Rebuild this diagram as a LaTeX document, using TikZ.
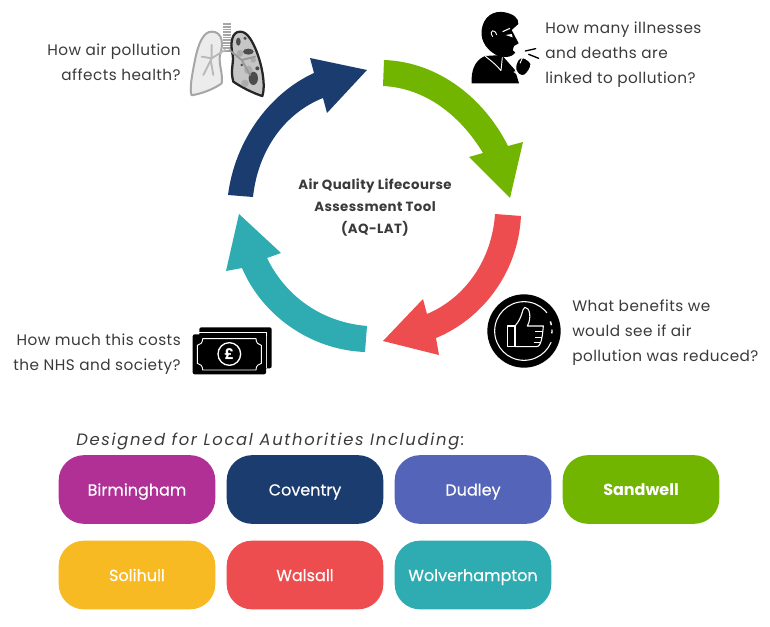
\documentclass[tikz,border=0pt]{standalone}
\usepackage{fontspec}
\setmainfont{Poppins}
\newfontfamily\spaced[LetterSpace=3]{Poppins}
\newfontfamily\spacedwide[LetterSpace=10.2]{Poppins}
\newfontfamily\spacedbold[LetterSpace=3]{Poppins}
\newfontfamily\popmedium[FakeBold=0.35]{Poppins}
\definecolor{cycleblue}{HTML}{1A3C6E}
\definecolor{cyclegreen}{HTML}{72B500}
\definecolor{cyclered}{HTML}{EE4D4F}
\definecolor{cycleteal}{HTML}{2EACB2}
\definecolor{cityplum}{HTML}{B03096}
\definecolor{cityindigo}{HTML}{5464B8}
\definecolor{cityyellow}{HTML}{F7BA23}
\definecolor{inkgrey}{HTML}{3A3A3A}
\tikzset{
  question/.style={text=inkgrey,inner sep=0pt,font=\spaced\fontsize{11.45}{18.75}\selectfont},
  cityname/.style={rounded corners=19pt,minimum width=117.5pt,minimum height=51.5pt,inner sep=0pt,
    text=white,text height=10pt,text depth=1pt,font=\popmedium\fontsize{12}{14}\selectfont},
  iconcrop/.style={x=0.25pt,y=-0.25pt},
}
\begin{document}
\begin{tikzpicture}[x=0.75pt,y=-0.75pt]
\useasboundingbox (0,0) rectangle (770,627);

% The four cycle arrows
\fill[cycleblue] (228,195) .. controls (235,140) and (270,93) .. (314,73) -- (310,58) -- (367,70) -- (327,113) -- (323,98)
  .. controls (285,113) and (258,150) .. (253,197) -- cycle;
\fill[cyclegreen] (384,60) .. controls (440,62) and (485,100) .. (508,146) -- (523,142) -- (510,198) -- (469,157) -- (483,153)
  .. controls (460,115) and (425,88) .. (383,86) -- cycle;
\fill[cyclered] (521,216) .. controls (518,275) and (480,320) .. (436,338) -- (439,355) -- (383,341) -- (423,299) -- (427,314)
  .. controls (465,298) and (492,260) .. (495,214) -- cycle;
\fill[cycleteal] (367,326) .. controls (320,322) and (285,295) .. (267,258) -- (281,253) -- (239,214) -- (226,271) -- (242,268)
  .. controls (262,315) and (310,350) .. (365,352) -- cycle;

% Centre title
\node[text=inkgrey,align=center,inner sep=0pt,font=\spacedbold\bfseries\fontsize{10}{16.5}\selectfont] (title) at (375,208)
  {Air Quality Lifecourse\\Assessment Tool\\(AQ-LAT)};

% Questions around the cycle
\node[question,align=right,anchor=east] (qhealth) at (181,62) {How air pollution\\affects health?};
\node[question,align=left,anchor=west] (qill) at (545,55) {How many illnesses\\and deaths are\\linked to pollution?};
\node[question,align=left,anchor=west] (qbenefit) at (572,333) {What benefits we\\would see if air\\pollution was reduced?};
\node[question,align=right,anchor=east] (qcost) at (181,354) {How much this costs\\the NHS and society?};

% Lungs
\begin{scope}[shift={(170,0)},iconcrop]
  \fill[gray!70] (160,70) rectangle (184,155);
  \foreach \y in {76,84,...,148} \draw[white,line width=0.35pt] (160,\y) -- (184,\y);
  \draw[fill=gray!15,draw=gray!70,line width=1.5pt,line join=round] (125,95) .. controls (100,95) and (85,130) .. (75,180)
    .. controls (65,230) and (58,270) .. (65,286) .. controls (100,280) and (135,265) .. (155,250)
    .. controls (160,225) and (145,190) .. (150,165) .. controls (160,135) and (160,95) .. (125,95) -- cycle;
  \draw[gray!55,line width=1.4pt,line cap=round] (165,150) -- (125,175) -- (100,225) (125,175) -- (95,170) (122,180) -- (130,225) (125,135) -- (125,175);
  \draw[fill=gray!45,draw=black!85,line width=1.7pt,line join=round] (210,95) .. controls (185,95) and (180,130) .. (188,165)
    .. controls (192,190) and (180,210) .. (190,245) .. controls (215,262) and (250,280) .. (277,288)
    .. controls (290,250) and (270,160) .. (240,115) .. controls (230,100) and (220,95) .. (210,95) -- cycle;
  \fill[black!70] (235,155) ellipse[x radius=16,y radius=9] (250,235) ellipse[x radius=14,y radius=20] (205,125) ellipse[x radius=7,y radius=12]
    (215,195) circle[radius=4] (262,205) circle[radius=6] (225,115) circle[radius=5];
  \fill[gray!65] (210,160) circle[radius=10] (235,210) circle[radius=13] (225,250) circle[radius=11] (250,180) circle[radius=8];
  \draw[gray!80,line width=1.4pt,line cap=round] (178,150) -- (215,180) -- (240,225) (215,180) -- (255,170);
\end{scope}

% Coughing figure
\begin{scope}[shift={(370,0)},iconcrop]
  \fill[black] (305,250) .. controls (303,215) and (312,182) .. (345,168) -- (395,165) -- (435,210) -- (447,250) -- cycle;
  \fill[black] (385,168) .. controls (355,155) and (330,125) .. (335,90) .. controls (340,50) and (370,30) .. (405,37)
    .. controls (430,42) and (447,55) .. (445,72) -- (425,90) -- (446,130) -- (432,138) -- (428,150) -- (436,158)
    .. controls (425,172) and (408,172) .. (398,170) -- cycle;
  \draw[white,line width=0.7pt] (345,168) .. controls (360,180) and (380,195) .. (393,212) (393,212) -- (397,172);
  \draw[white,line width=0.7pt] (368,110) .. controls (355,90) and (375,85) .. (380,105);
  \fill[white] (407,105) -- (425,102) -- (428,112) -- cycle;
  \draw[white,line width=0.8pt] (398,95) -- (420,85);
  \draw[white,line width=1.2pt,fill=black,rounded corners=3pt] (440,180) -- (457,168) -- (488,190) -- (472,222) -- (455,232) -- (434,212) -- cycle;
  \draw[white,line width=0.7pt] (450,190) -- (458,172) (432,215) -- (456,234);
  \draw[black,line width=1pt,line cap=round] (466,153) -- (497,146) (476,163) -- (506,175);
\end{scope}

% Thumbs-up badge
\begin{scope}[shift={(350,200)},iconcrop]
  \fill[black] (522,393) circle[radius=110];
  \draw[white,line width=0.8pt] (522,393) circle[radius=88];
  \draw[black,line width=2pt] plot[domain=-38:22,samples=16] ({522+88*cos(\x)},{393+88*sin(\x)});
  \draw[white,line width=1.1pt] plot[domain=-20:-12,samples=4] ({522+84*cos(\x)},{393+84*sin(\x)});
  \draw[white,line width=1.1pt] plot[domain=-3:5,samples=4] ({522+84*cos(\x)},{393+84*sin(\x)});
  \draw[white,line width=0.8pt,line join=round] (472,378) rectangle (495,440);
  \draw[white,line width=0.8pt,line join=round] (495,440) -- (560,440) .. controls (575,440) and (578,400) .. (580,378)
    -- (532,378) .. controls (545,355) and (540,322) .. (525,322) .. controls (515,325) and (520,350) .. (495,378);
  \draw[white,line width=0.7pt] (580,395) -- (555,395) (575,412) -- (555,412) (570,428) -- (553,428);
\end{scope}

% Banknotes
\begin{scope}[shift={(170,200)},iconcrop]
  \fill[black,rounded corners=1.5pt] (88,382) rectangle (305,505);
  \draw[white,line width=0.8pt] (88,398) -- (290,398) -- (290,505);
  \fill[black,rounded corners=1.5pt] (68,403) rectangle (288,523);
  \draw[white,line width=0.7pt,line join=round] (98,416) -- (258,416) .. controls (258,428) and (265,435) .. (274,436)
    -- (274,490) .. controls (265,491) and (258,498) .. (258,510) -- (98,510) .. controls (98,498) and (91,491) .. (82,490)
    -- (82,436) .. controls (91,435) and (98,428) .. (98,416) -- cycle;
  \draw[white,line width=1pt] (178,462) circle[radius=34];
  \node[text=white,inner sep=0pt,font=\bfseries\fontsize{11}{11}\selectfont] (pound) at (178,462) {£};
\end{scope}

% Caption and local authority list
\node[anchor=base west,inner sep=0pt,text=inkgrey,font=\spacedwide\itshape\fontsize{12.3}{14}\selectfont] (caption) at (76,445)
  {Designed for Local Authorities Including:};
\node[cityname,fill=cityplum] (birmingham) at (137,489.5) {Birmingham};
\node[cityname,fill=cycleblue] (coventry) at (305,489.5) {Coventry};
\node[cityname,fill=cityindigo] (dudley) at (473,489.5) {Dudley};
\node[cityname,fill=cyclegreen,font=\bfseries\fontsize{12}{14}\selectfont] (sandwell) at (641,489.5) {Sandwell};
\node[cityname,fill=cityyellow] (solihull) at (137,575) {Solihull};
\node[cityname,fill=cyclered] (walsall) at (305,575) {Walsall};
\node[cityname,fill=cycleteal] (wolverhampton) at (473,575) {Wolverhampton};
\end{tikzpicture}
\end{document}
